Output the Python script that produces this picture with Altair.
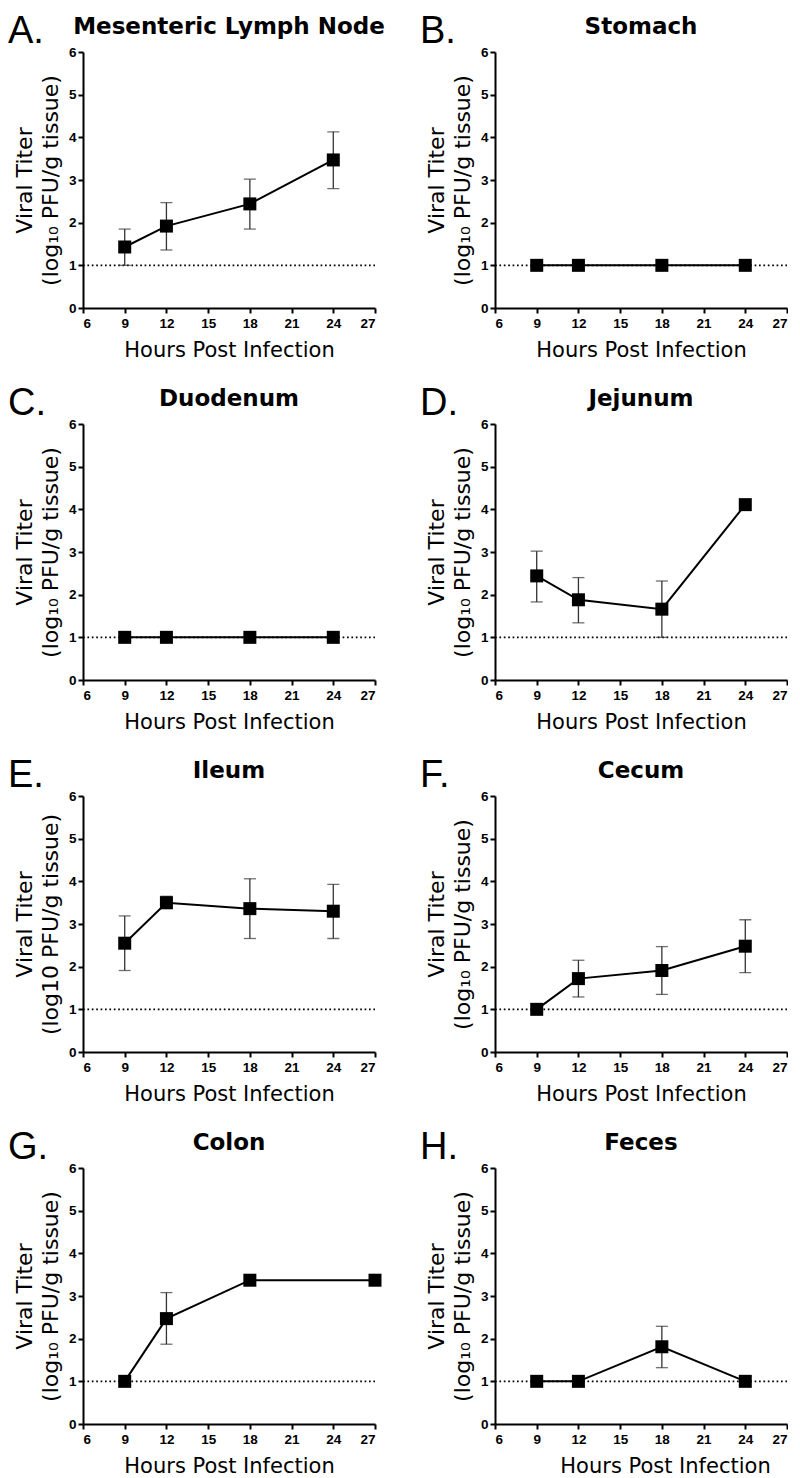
import altair as alt
import pandas as pd

# ---- data ----
hours = [9, 12, 18, 24]
colon_hours = [9, 12, 18, 27]
x_ticks = [6, 9, 12, 15, 18, 21, 24, 27]
y_ticks = [0, 1, 2, 3, 4, 5, 6]
detection_limit = 1

mln_mean = [1.43, 1.92, 2.44, 3.47]
mln_hi = [1.85, 2.47, 3.02, 4.13]
mln_lo = [1.00, 1.36, 1.85, 2.80]

stomach_mean = [1.0, 1.0, 1.0, 1.0]
stomach_hi = [None, None, None, None]
stomach_lo = [None, None, None, None]

duodenum_mean = [1.0, 1.0, 1.0, 1.0]
duodenum_hi = [None, None, None, None]
duodenum_lo = [None, None, None, None]

jejunum_mean = [2.44, 1.88, 1.66, 4.11]
jejunum_hi = [3.02, 2.40, 2.32, None]
jejunum_lo = [1.83, 1.34, 1.00, None]

ileum_mean = [2.55, 3.50, 3.36, 3.30]
ileum_hi = [3.19, 3.65, 4.06, 3.93]
ileum_lo = [1.91, 3.36, 2.66, 2.66]

cecum_mean = [1.0, 1.72, 1.91, 2.48]
cecum_hi = [None, 2.15, 2.47, 3.10]
cecum_lo = [None, 1.29, 1.35, 1.86]

colon_mean = [1.0, 2.47, 3.37, 3.37]
colon_hi = [None, 3.08, None, None]
colon_lo = [None, 1.87, None, None]

feces_mean = [1.0, 1.0, 1.81, 1.0]
feces_hi = [None, None, 2.29, None]
feces_lo = [None, None, 1.32, None]

letters = ["A.", "B.", "C.", "D.", "E.", "F.", "G.", "H."]
titles = ["Mesenteric Lymph Node", "Stomach", "Duodenum", "Jejunum",
          "Ileum", "Cecum", "Colon", "Feces"]
y_title_top = "Viral  Titer"
y_title_sub = "(log\u2081\u2080 PFU/g tissue)"
y_title_plain = "(log10 PFU/g tissue)"
x_title = "Hours Post Infection"

W, H = 292, 256
FONT = "DejaVu Sans"
LABEL_FONT = "Liberation Sans"


def make_panel(letter, title, xs, mean, hi, lo, ylab, xtitle_shift=0):
    df = pd.DataFrame({"hours": xs, "titer": mean, "hi": hi, "lo": lo})
    base = alt.Chart(df)

    def xenc(field):
        return alt.X(f"{field}:Q",
                     scale=alt.Scale(domain=[6, 27], nice=False, zero=False),
                     axis=alt.Axis(values=x_ticks, title=x_title,
                                   titleX=W / 2 + xtitle_shift,
                                   labelFont=LABEL_FONT, labelFontSize=13.5,
                                   labelFontWeight="bold"))

    def yenc(field):
        return alt.Y(f"{field}:Q",
                     scale=alt.Scale(domain=[0, 6], nice=False, zero=True),
                     axis=alt.Axis(values=y_ticks, title=[y_title_top, ylab],
                                   labelFont=LABEL_FONT, labelFontSize=13.5,
                                   labelFontWeight="bold"))

    lod_df = pd.DataFrame({"x0": [x_ticks[0]], "x1": [x_ticks[-1]], "lod": [detection_limit]})
    lod = alt.Chart(lod_df).mark_rule(
        color="black", strokeWidth=1.7, strokeDash=[1.7, 2.7]
    ).encode(x=xenc("x0"), x2="x1:Q", y=yenc("lod"))

    err = base.transform_filter("isValid(datum.hi)")
    bars = err.mark_rule(color="#333333", strokeWidth=1.3).encode(
        x=xenc("hours"), y=yenc("lo"), y2="hi:Q")
    cap_hi = err.mark_tick(orient="horizontal", size=12, thickness=1.3,
                           color="#333333").encode(x=xenc("hours"), y=yenc("hi"))
    cap_lo = err.mark_tick(orient="horizontal", size=12, thickness=1.3,
                           color="#333333").encode(x=xenc("hours"), y=yenc("lo"))

    line = base.mark_line(color="black", strokeWidth=2).encode(
        x=xenc("hours"), y=yenc("titer"))
    pts = base.mark_point(shape="square", filled=True, size=169, color="black",
                          opacity=1).encode(x=xenc("hours"), y=yenc("titer"))

    letter_txt = alt.Chart(pd.DataFrame({"t": [letter]})).mark_text(
        align="left", baseline="alphabetic", font=LABEL_FONT, fontSize=38,
        color="black").encode(text="t:N", x=alt.value(-75), y=alt.value(-9))
    title_txt = alt.Chart(pd.DataFrame({"t": [title]})).mark_text(
        align="center", baseline="alphabetic", font=FONT, fontSize=23,
        fontWeight="bold", color="black").encode(
        text="t:N", x=alt.value(W / 2), y=alt.value(-18))

    return alt.layer(lod, bars, cap_hi, cap_lo, line, pts, letter_txt, title_txt).properties(
        width=W, height=H)


panels = [
    make_panel(letters[0], titles[0], hours, mln_mean, mln_hi, mln_lo, y_title_sub),
    make_panel(letters[1], titles[1], hours, stomach_mean, stomach_hi, stomach_lo, y_title_sub),
    make_panel(letters[2], titles[2], hours, duodenum_mean, duodenum_hi, duodenum_lo, y_title_sub),
    make_panel(letters[3], titles[3], hours, jejunum_mean, jejunum_hi, jejunum_lo, y_title_sub),
    make_panel(letters[4], titles[4], hours, ileum_mean, ileum_hi, ileum_lo, y_title_plain),
    make_panel(letters[5], titles[5], hours, cecum_mean, cecum_hi, cecum_lo, y_title_sub),
    make_panel(letters[6], titles[6], colon_hours, colon_mean, colon_hi, colon_lo, y_title_sub),
    make_panel(letters[7], titles[7], hours, feces_mean, feces_hi, feces_lo, y_title_sub, 24),
]

chart = alt.concat(*panels, columns=2, spacing={"row": 116, "column": 120},
                   bounds="flush").properties(
    padding={"left": 0, "top": 5, "right": 0, "bottom": 0}
).configure_view(stroke=None).configure_axis(
    grid=False,
    domainColor="black", domainWidth=2,
    tickColor="black", tickWidth=2, tickSize=5,
    labelColor="black",
    titleFont=FONT, titleFontWeight="normal", titleColor="black",
).configure_axisY(
    labelPadding=2, titlePadding=6, titleFontSize=22, titleLineHeight=26,
).configure_axisX(
    labelPadding=3, titlePadding=10, titleFontSize=21,
)

chart.save("out.html", embed_options={"renderer": "svg", "actions": False})
